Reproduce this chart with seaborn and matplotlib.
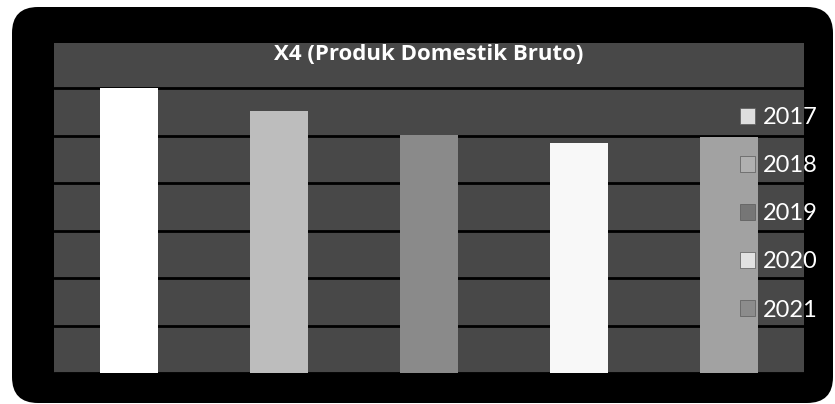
import matplotlib.pyplot as plt
import seaborn as sns
from matplotlib.patches import FancyBboxPatch, Patch

# values (axis scale hidden in the original)
years = ["2017", "2018", "2019", "2020", "2021"]
pdb = [6.00, 5.52, 5.01, 4.85, 4.98]
bar_colors = ["#ffffff", "#bdbdbd", "#8a8a8a", "#f8f8f8", "#a2a2a2"]
legend_colors = ["#dedede", "#b0b0b0", "#767676", "#e2e2e2", "#8c8c8c"]
title = "X4 (Produk Domestik Bruto)"

sns.set_theme(style="dark")
plt.rcParams['font.family'] = ['Lato', 'DejaVu Sans']

fig = plt.figure(figsize=(8.35, 4.04), dpi=100, facecolor="white")

# black rounded frame behind the chart
frame = FancyBboxPatch((0.12, 0.01), 8.21, 3.96,
                       boxstyle="round,pad=0,rounding_size=0.26",
                       transform=fig.dpi_scale_trans, facecolor="black",
                       edgecolor="none", zorder=-10)
fig.patches.append(frame)

ax = fig.add_axes([54 / 835, 31 / 404, 750 / 835, 330 / 404])
ax.set_zorder(2)
ax.set_facecolor("#484848")

sns.barplot(x=years, y=pdb, hue=years, palette=dict(zip(years, bar_colors)),
            width=0.39, saturation=1, legend=False, ax=ax, zorder=3,
            linewidth=0)

ax.set_xlim(-0.5, 4.5)
ax.set_ylim(0, 6.95)
ax.set_yticks(range(0, 7))
ax.set_xticks([])
ax.set_yticklabels([])
ax.set_xlabel("")
ax.set_ylabel("")
ax.tick_params(length=0)
ax.yaxis.grid(True, color="black", linewidth=2.0)
ax.xaxis.grid(False)
ax.set_axisbelow(True)
for s in ax.spines.values():
    s.set_visible(False)

ax.text(0.5, 1 - 11 / 330, title, transform=ax.transAxes, ha="center", va="center",
        color="white", fontsize=16, fontweight="bold",
        family=["Open Sans", "DejaVu Sans"])

handles = [Patch(facecolor=c, edgecolor="#5a5a5a", linewidth=0.5) for c in legend_colors]
ax.legend(handles, years, loc="upper left",
          bbox_to_anchor=(740 / 835, 1 - 107 / 404), bbox_transform=fig.transFigure,
          frameon=False, fontsize=17, labelcolor="white",
          handlelength=0.65, handleheight=0.65, handletextpad=0.3,
          labelspacing=1.15, borderpad=0, borderaxespad=0)

fig.savefig("out.png", dpi=100, facecolor="white")
